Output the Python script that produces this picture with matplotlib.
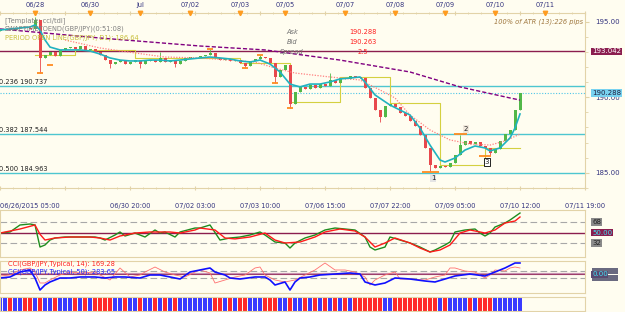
import numpy as np
import matplotlib.pyplot as plt
from matplotlib.ticker import MultipleLocator
from matplotlib.transforms import blended_transform_factory
from matplotlib.patches import Rectangle

plt.rcParams['font.family'] = ['DejaVu Sans']
plt.rcParams['font.size'] = 4.8

W, H = 625, 312
BG = '#FFFDF0'
FRAME = '#E2D3A8'
NAVY = '#34347F'
BULL = '#52B848'
BEAR = '#E8484C'

# ---- price data (GBP/JPY, one value per 2h bar) ----
first_open = 194.40
closes = [194.45, 194.52, 194.45, 194.58, 194.65, 194.58, 194.52, 195.11, 192.60, 192.79,
          192.99, 192.73, 193.13, 193.26, 193.32, 193.19, 193.39, 193.13, 193.19, 192.99,
          192.79, 192.46, 192.20, 192.33, 192.46, 192.20, 192.33, 192.46, 192.20, 192.40,
          192.46, 192.33, 192.60, 192.33, 192.46, 192.20, 192.40, 192.60, 192.66, 192.66,
          192.73, 192.79, 192.93, 192.60, 192.46, 192.53, 192.40, 192.46, 192.26, 192.07,
          192.40, 192.53, 192.66, 192.60, 192.26, 191.34, 191.80, 192.13, 189.55, 190.34,
          190.68, 190.54, 190.81, 190.61, 190.87, 190.74, 191.14, 190.94, 191.27, 191.21,
          191.41, 191.34, 191.27, 190.61, 189.95, 189.15, 188.69, 189.42, 189.55, 189.35,
          188.95, 188.76, 188.42, 188.09, 187.50, 186.64, 185.51, 185.31, 185.44, 185.38,
          185.64, 186.17, 186.83, 187.10, 186.90, 187.03, 186.77, 186.64, 186.30, 186.57,
          187.10, 187.56, 187.83, 189.15, 190.29]
wick_hi = {7: 195.31, 32: 192.99, 42: 193.19, 52: 192.79, 66: 191.60, 92: 187.50}
wick_lo = {8: 191.60, 22: 191.93, 28: 191.93, 35: 192.00, 49: 191.93, 55: 190.94,
           58: 189.29, 76: 188.36, 86: 185.05, 98: 186.17}

teal_idx = [0, 2, 4, 6, 7, 8, 9, 10, 12, 14, 16, 18, 20, 22, 24, 26, 28, 30, 32, 34, 36, 38,
            40, 42, 44, 46, 48, 50, 52, 54, 56, 58, 60, 62, 64, 66, 68, 70, 72, 73, 75, 78,
            80, 82, 84, 86, 88, 89, 91, 93, 95, 97, 98, 100, 102, 103, 104]
teal = [194.45, 194.52, 194.58, 194.65, 194.78, 194.45, 193.79, 193.32, 193.13, 193.13,
        193.13, 193.06, 192.86, 192.60, 192.46, 192.40, 192.40, 192.46, 192.46, 192.40,
        192.46, 192.53, 192.60, 192.66, 192.60, 192.53, 192.40, 192.33, 192.46, 192.20,
        191.67, 190.87, 190.68, 190.87, 190.87, 191.01, 191.21, 191.27, 191.34, 191.01,
        190.15, 189.48, 189.15, 188.82, 187.96, 186.83, 185.84, 185.71, 185.97, 186.50,
        186.77, 186.64, 186.44, 186.64, 187.30, 187.96, 188.89]
mid_idx = [13, 20, 27, 33, 40, 51, 55, 59, 66, 72, 76, 79, 82, 86, 90, 94, 98, 101, 104]
mid_ma = [193.79, 193.26, 192.93, 192.66, 192.60, 192.33, 191.93, 191.60, 191.34, 191.14,
          190.48, 189.95, 188.82, 187.83, 187.17, 186.90, 186.83, 187.10, 187.56]
slow_idx = [0, 20, 40, 53, 68, 82, 92, 102, 104]
slow_ma = [194.52, 193.92, 193.39, 193.13, 192.46, 191.67, 190.68, 189.95, 189.81]

day_start = [7, 15, 27, 48, 58, 68, 78, 88, 97, 104]
day_open = [192.79, 193.13, 192.60, 192.26, 189.68, 191.34, 189.62, 185.51, 186.64, 186.64]

swing_idx = [8, 10, 42, 49, 52, 55, 58, 86, 92, 97]
swing_px = [191.60, 192.13, 193.19, 191.93, 192.79, 190.94, 189.29, 185.03, 187.54, 186.13]

levels = {'r1': 193.042, 'f236': 190.737, 'bid': 190.288, 'f382': 187.544, 'f500': 184.963}

# ---- indicators ----
tdi_g_idx = [0, 2, 4, 6, 7, 8, 9, 10, 11, 13, 16, 19, 20, 21, 23, 24, 25, 27, 29, 31, 32, 33,
             35, 36, 39, 40, 42, 44, 46, 48, 50, 52, 53, 55, 57, 58, 59, 61, 63, 65, 67, 69,
             71, 73, 74, 75, 77, 78, 80, 82, 84, 86, 87, 89, 90, 91, 93, 95, 96, 97, 98, 99,
             101, 102, 104]
tdi_g = [49.1, 50.9, 62.9, 64.6, 62.9, 25.1, 28.6, 37.1, 40.6, 42.3, 42.3, 42.3, 40.6, 37.1,
         45.7, 50.9, 44.0, 49.1, 42.3, 54.3, 49.1, 50.9, 42.3, 50.9, 57.7, 57.7, 62.9, 37.1,
         40.6, 42.3, 45.7, 50.9, 45.7, 33.7, 32.0, 23.4, 32.0, 40.6, 45.7, 54.3, 57.7, 56.0,
         54.3, 42.3, 25.1, 20.0, 25.1, 42.3, 37.1, 32.0, 25.1, 16.6, 20.0, 28.6, 33.7, 50.9,
         54.3, 56.0, 49.1, 44.0, 49.1, 59.4, 66.3, 71.4, 83.4]
tdi_r_idx = [0, 4, 7, 8, 9, 11, 14, 18, 20, 22, 24, 27, 30, 34, 36, 39, 40, 43, 45, 47, 50,
             53, 55, 57, 60, 63, 65, 68, 71, 73, 75, 77, 79, 82, 84, 86, 88, 90, 92, 94, 96,
             97, 99, 101, 103, 104]
tdi_r = [49.1, 56.0, 62.9, 47.0, 37.1, 40.6, 42.3, 42.3, 40.6, 37.1, 44.0, 49.1, 50.9, 50.9,
         49.1, 54.3, 57.7, 54.3, 40.6, 39.0, 42.3, 49.1, 37.1, 32.0, 33.7, 42.3, 50.9, 56.0,
         52.6, 42.3, 25.1, 32.0, 40.6, 32.0, 23.4, 16.6, 20.0, 28.6, 49.1, 54.3, 50.9, 49.1,
         54.3, 66.3, 69.7, 76.6]

cci50_idx = [0, 2, 4, 6, 7, 8, 9, 10, 12, 14, 16, 19, 21, 23, 25, 28, 30, 32, 34, 36, 38, 40,
             42, 43, 45, 46, 48, 51, 53, 54, 55, 57, 58, 59, 60, 62, 64, 67, 70, 72, 73, 75,
             77, 79, 82, 85, 87, 89, 91, 94, 97, 99, 101, 103, 104]
cci50 = [-100, -71, 71, 129, -100, -443, -300, -214, -100, -100, -71, -71, -100, -71, -71,
         -100, -14, -14, -71, -129, 71, 129, 186, 71, -14, -100, -129, -71, -71, -157, -300,
         -214, -443, -214, -100, -71, -14, 14, 43, 14, -214, -300, -243, -100, -129, -186,
         -214, -129, -43, 14, -43, 71, 186, 329, 329]
cci14_idx = [0, 2, 4, 6, 7, 8, 9, 10, 12, 14, 16, 19, 20, 22, 24, 26, 28, 29, 31, 33, 35, 37,
             39, 40, 42, 43, 45, 47, 49, 51, 52, 53, 55, 57, 59, 61, 63, 65, 67, 69, 71, 73,
             74, 75, 77, 79, 80, 82, 85, 87, 89, 90, 91, 93, 95, 97, 98, 99, 101, 102, 103, 104]
cci14 = [-43, -14, 129, 186, 71, -243, -243, -157, -14, 71, 43, 71, -14, -157, 186, -71, -14,
         71, 214, 71, -14, -71, 71, 129, 43, -243, -157, -71, -14, 186, 214, -14, -157, -214,
         -157, -14, 129, 329, 129, 129, 71, -71, -300, -157, -14, 71, -129, -129, -157, -71,
         -14, 186, 186, 100, 71, -100, -14, 129, 100, 186, 214, 186]

bottom_idx = [0, 13, 26, 39, 52, 65, 78, 91, 104, 117]
bottom_lbl = ['06/26/2015 05:00', '', '06/30 20:00', '07/02 03:00', '07/03 10:00',
              '07/06 15:00', '07/07 22:00', '07/09 05:00', '07/10 12:00', '07/11 19:00']
top_idx = [7, 18, 28, 38, 48, 57, 69, 79, 89, 99, 109]
top_lbl = ['06/28', '06/30', 'Jul', '07/02', '07/03', '07/05', '07/07', '07/08', '07/09',
           '07/10', '07/11']

fig = plt.figure(figsize=(W / 100, H / 100), dpi=100, facecolor=BG)


def panel(top, bottom):
    ax = fig.add_axes([0, 1 - bottom / H, 585 / W, (bottom - top) / H], facecolor=BG)
    ax.set_xlim(0, 117)
    for s in ax.spines.values():
        s.set_color(FRAME)
        s.set_linewidth(0.8)
    ax.spines['left'].set_visible(False)
    return ax


def box(ax, y, txt, fc, tc, z=5):
    tr = blended_transform_factory(ax.transAxes, ax.transData)
    ax.text(1.012, y, txt, transform=tr, ha='left', va='center', color=tc, fontsize=5,
            zorder=z, clip_on=False, bbox=dict(facecolor=fc, edgecolor='none', pad=0.5))


# ---- main panel ----
ax = panel(13, 188)
ax.set_ylim(183.987, 195.576)

opens = [first_open] + closes[:-1]
idx = np.arange(len(closes))
for i, (o, c) in enumerate(zip(opens, closes)):
    col = BULL if c >= o else BEAR
    hi = wick_hi.get(i, max(o, c))
    lo = wick_lo.get(i, min(o, c))
    ax.vlines(i, lo, hi, color=col, lw=0.6, zorder=3)
    ax.bar(i, c - o, bottom=o, width=0.6, color=col, zorder=3, linewidth=0)

ax.axhline(levels['r1'], color='#8B1E4F', lw=1.0, zorder=2)
for k in ('f236', 'f382', 'f500'):
    ax.axhline(levels[k], color='#4EC6D0', lw=1.0, zorder=2)
ax.axhline(levels['bid'], color='#4EC6E8', lw=0.8, ls=(0, (1, 1.5)), zorder=2)

ax.step(day_start, day_open, where='post', color='#D4D040', lw=0.8, zorder=2)
ax.plot(slow_idx, slow_ma, color='#800080', lw=1.0, ls=(0, (3, 1.5)), zorder=4)
ax.plot(mid_idx, mid_ma, color='#FF8080', lw=0.9, ls=(0, (1, 1.2)), zorder=4)
ax.plot(teal_idx, teal, color='#20B2C0', lw=1.2, zorder=5)

hw = [0.6, 0.6, 0.6, 0.6, 0.6, 0.6, 0.6, 1.7, 1.3, 1.2]
for i, p, w in zip(swing_idx, swing_px, hw):
    ax.hlines(p, i - w, i + w, color='#FF8C20', lw=1.3, zorder=6)

for txt, i, p, fc, ec in [('1', 86.6, 184.65, '#E4E4E4', 'none'),
                          ('2', 93.2, 187.89, '#F0E8DC', 'none'),
                          ('3', 97.4, 185.71, 'white', 'black')]:
    ax.text(i, p, txt, ha='center', va='center', fontsize=5, color='#202020', zorder=7,
            bbox=dict(facecolor=fc, edgecolor=ec, pad=0.8, linewidth=0.6))

for k, lbl in (('f236', '0.236 190.737'), ('f382', '0.382 187.544'), ('f500', '0.500 184.963')):
    ax.text(-0.2, levels[k] + 0.08, lbl, ha='left', va='bottom', fontsize=4.8, color='#202020')

ax.yaxis.tick_right()
ax.set_yticks([185, 190, 195], ['185.00', '190.00', '195.00'])
ax.yaxis.set_minor_locator(MultipleLocator(1))
ax.tick_params(axis='y', which='both', colors=FRAME, labelcolor=NAVY, length=3, pad=4,
               labelsize=5)
ax.tick_params(axis='y', which='minor', length=2)
ax.set_xticks(bottom_idx, bottom_lbl)
ax.xaxis.set_minor_locator(MultipleLocator(2.6))
ax.tick_params(axis='x', which='both', colors=FRAME, labelcolor=NAVY, length=3, pad=9,
               labelsize=4.8, top=True, direction='inout')
ax.tick_params(axis='x', which='minor', length=2)
ax.get_xticklabels()[0].set_ha('left')

box(ax, levels['r1'], '193.042', '#8B1E4F', 'white')
box(ax, levels['bid'], '190.288', '#78D2F0', '#202040', z=6)

tr = blended_transform_factory(ax.transData, ax.transAxes)
ax.plot(top_idx, [1.0] * len(top_idx), ls='none', marker='v', ms=3.2, color='#FF9C20',
        transform=tr, clip_on=False, zorder=8)
for i, lbl in zip(top_idx, top_lbl):
    ax.annotate(lbl, xy=(i, 1.0), xycoords=tr, xytext=(0, 8), textcoords='offset pixels',
                ha='center', va='center', color=NAVY, fontsize=4.8)

fig.text(5 / W, 1 - 21 / H, '[Template: cci/tdi]', color='#808080', va='center', fontsize=4.8)
fig.text(5 / W, 1 - 29 / H, 'SWAPTIMETOEND(GBP/JPY)(0:51:08)', color='#808080', va='center',
         fontsize=4.8)
fig.text(5 / W, 1 - 38 / H, 'PERIOD OPEN LINE(GBP/JPY, D1): 186.64', color='#C8C03C',
         va='center', fontsize=4.8)
for y, a, b in ((32, 'Ask', '190.288'), (42, 'Bid', '190.263'), (52, 'Spread', '2.5')):
    fig.text(292 / W, 1 - y / H, a, color='#707070', ha='center', va='center', style='italic',
             fontsize=4.8)
    fig.text(363 / W, 1 - y / H, b, color='#FF2020', ha='center', va='center', fontsize=4.8)
fig.text(583 / W, 1 - 22 / H, '100% of ATR (13):226 pips', color='#A07840', ha='right',
         va='center', style='italic', fontsize=4.8)

# ---- TDI panel ----
ax2 = panel(210, 257)
ax2.spines['left'].set_visible(True)
ax2.set_ylim(8, 88.6)
ax2.set_xticks([])
ax2.set_yticks([])
for v in (68, 32):
    ax2.axhline(v, color='#A8A8A8', lw=0.8, ls=(0, (6, 3)))
ax2.axhline(50, color='#8B1E4F', lw=1.0)
ax2.plot(tdi_g_idx, tdi_g, color='#1E8C1E', lw=1.0)
ax2.plot(tdi_r_idx, tdi_r, color='#FF1A1A', lw=1.0)
box(ax2, 68, '68', '#8A8A8A', '#202020')
box(ax2, 32, '32', '#8A8A8A', '#202020')
box(ax2, 50, '50.00', '#8B1E4F', '#40E0F0')

# ---- CCI panel ----
ax3 = panel(261, 293)
ax3.spines['left'].set_visible(True)
ax3.set_ylim(-529, 386)
ax3.set_xticks([])
ax3.set_yticks([])
for v in (100, -100):
    ax3.axhline(v, color='#A8A8A8', lw=0.8, ls=(0, (6, 3)))
ax3.axhline(0, color='#C890B0', lw=1.6)
ax3.axhline(0, color='#8B1E4F', lw=0.5)
ax3.plot(cci14_idx, cci14, color='#FF7070', lw=0.6)
ax3.plot(cci50_idx, cci50, color='#1010FF', lw=1.2)
# the +/-100 scale tags sit almost fully behind the 0.00 tag
tr3 = blended_transform_factory(ax3.transAxes, ax3.transData)
for v in (100, -100):
    ax3.add_patch(Rectangle((1.012, v - 90), 0.045, 180, transform=tr3, facecolor='#6A6A80',
                            edgecolor='none', clip_on=False, zorder=4))
box(ax3, 0, '0.00', '#5A4A70', '#40E0F0', z=6)
ax3.text(1.5, 320, 'CCI(GBP/JPY,Typical, 14): 169.28', color='#FF2020', fontsize=4.8,
         va='center')
ax3.text(1.5, 70, 'CCI(GBP/JPY,Typical, 50): 283.65', color='#2020FF', fontsize=4.8,
         va='center')

# ---- bull/bear strip ----
ax4 = panel(297, 311)
ax4.spines['left'].set_visible(True)
ax4.set_ylim(0, 1)
ax4.set_xticks([])
ax4.set_yticks([])
strip_cols = ['#3A3AFF' if c >= o else '#FF2A2A' for o, c in zip(opens, closes)]
ax4.bar(idx, 1, width=0.7, bottom=0, color=strip_cols, linewidth=0)

fig.savefig('out.png', dpi=100, facecolor=BG)
